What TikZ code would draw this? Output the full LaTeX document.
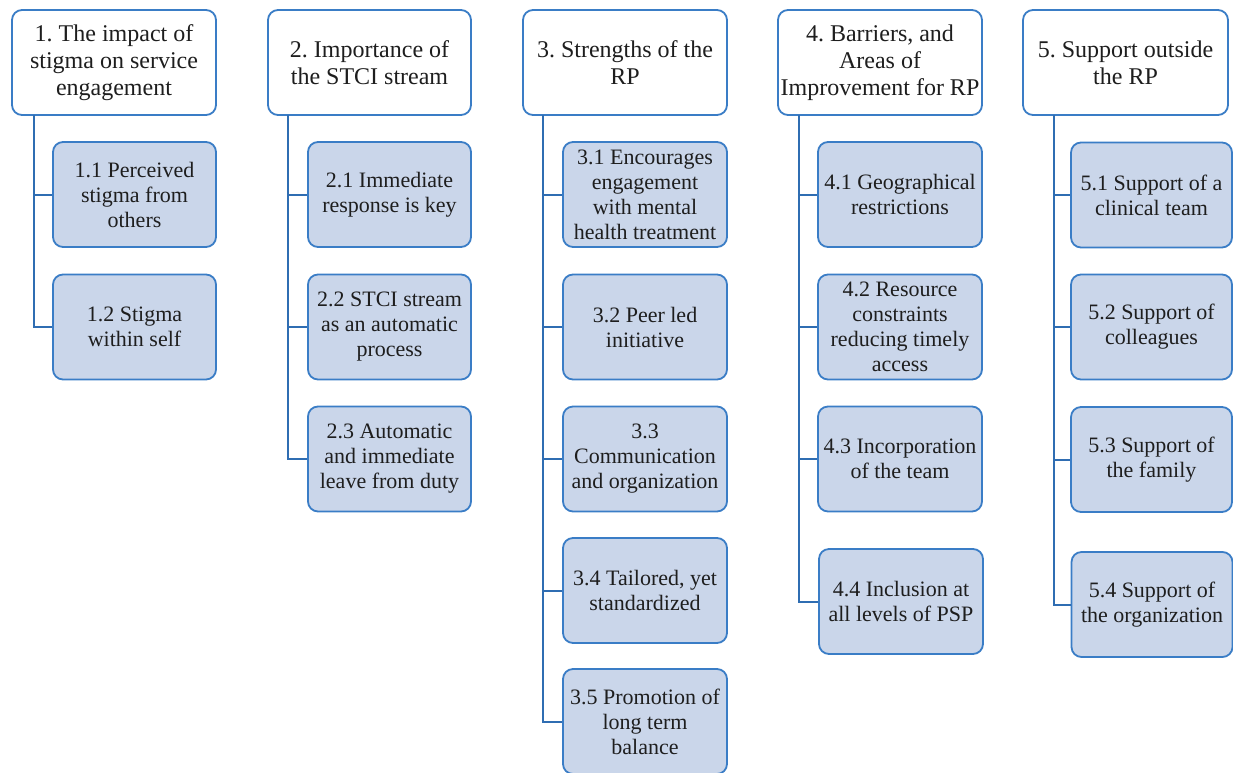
\documentclass[tikz,border=0pt]{standalone}
\usepackage{fontspec}
\setmainfont{Liberation Serif}
\frenchspacing
\definecolor{bordblue}{HTML}{3A7DC6}
\definecolor{fillblue}{HTML}{CAD6EA}
\definecolor{linkblue}{HTML}{2F6DB2}
\definecolor{txt}{HTML}{1E1E1E}
\tikzset{
  hdr/.style={draw=bordblue, line width=1.8pt, fill=white, rounded corners=10pt,
    align=center, text=txt, inner sep=2pt, minimum height=105pt,
    font=\rmfamily\fontsize{24}{27}\selectfont},
  sub/.style={draw=bordblue, line width=1.8pt, fill=fillblue, rounded corners=10pt,
    align=center, text=txt, inner sep=1pt, minimum height=105pt,
    font=\rmfamily\fontsize{22}{25}\selectfont},
  conn/.style={draw=linkblue, line width=2pt}
}
\begin{document}
\begin{tikzpicture}[x=1pt,y=-1pt]
\useasboundingbox (0,0) rectangle (1233,772);
% Column 1
\node[hdr, minimum width=204pt] (h1) at (114,62.5) {1. The impact of\\stigma on service\\engagement};
\node[sub, minimum width=163pt] (c11) at (134.5,194.5) {1.1 Perceived\\stigma from\\others};
\node[sub, minimum width=163pt] (c12) at (134.5,327) {1.2 Stigma\\within self};
\coordinate (t1) at (34,115);
\draw[conn] (t1) |- (c11.west);
\draw[conn] (t1) |- (c12.west);
% Column 2
\node[hdr, minimum width=203pt] (h2) at (369.5,62.5) {2. Importance of\\the STCI stream};
\node[sub, minimum width=163pt] (c21) at (389.5,194.5) {2.1 Immediate\\response is key};
\node[sub, minimum width=163pt] (c22) at (389.5,327) {2.2 STCI stream\\as an automatic\\process};
\node[sub, minimum width=163pt] (c23) at (389.5,459) {2.3 Automatic\\and immediate\\leave from duty};
\coordinate (t2) at (288,115);
\draw[conn] (t2) |- (c21.west);
\draw[conn] (t2) |- (c22.west);
\draw[conn] (t2) |- (c23.west);
% Column 3
\node[hdr, minimum width=204pt] (h3) at (625,62.5) {3. Strengths of the\\RP};
\node[sub, minimum width=164pt] (c31) at (645,194.5) {3.1 Encourages\\engagement\\with mental\\health treatment};
\node[sub, minimum width=164pt] (c32) at (645,327) {3.2 Peer led\\initiative};
\node[sub, minimum width=164pt] (c33) at (645,459) {3.3\\Communication\\and organization};
\node[sub, minimum width=164pt] (c34) at (645,590.5) {3.4 Tailored, yet\\standardized};
\node[sub, minimum width=164pt] (c35) at (645,721.5) {3.5 Promotion of\\long term\\balance};
\coordinate (t3) at (543,115);
\draw[conn] (t3) |- (c31.west);
\draw[conn] (t3) |- (c32.west);
\draw[conn] (t3) |- (c33.west);
\draw[conn] (t3) |- (c34.west);
\draw[conn] (t3) |- (c35.west);
% Column 4
\node[hdr, minimum width=204pt] (h4) at (880,62.5) {4. Barriers, and\\Areas of\\Improvement for RP};
\node[sub, minimum width=164pt] (c41) at (900,194.5) {4.1 Geographical\\restrictions};
\node[sub, minimum width=164pt] (c42) at (900,327) {4.2 Resource\\constraints\\reducing timely\\access};
\node[sub, minimum width=164pt] (c43) at (900,459) {4.3 Incorporation\\of the team};
\node[sub, minimum width=164pt] (c44) at (901,601.5) {4.4 Inclusion at\\all levels of PSP};
\coordinate (t4) at (799,115);
\draw[conn] (t4) |- (c41.west);
\draw[conn] (t4) |- (c42.west);
\draw[conn] (t4) |- (c43.west);
\draw[conn] (t4) |- (c44.west);
% Column 5
\node[hdr, minimum width=205pt] (h5) at (1125.5,62.5) {5. Support outside\\the RP};
\node[sub, minimum width=161pt] (c51) at (1151.5,195) {5.1 Support of a\\clinical team};
\node[sub, minimum width=161pt] (c52) at (1151.5,327) {5.2 Support of\\colleagues};
\node[sub, minimum width=161pt] (c53) at (1151.5,459.5) {5.3 Support of\\the family};
\node[sub, minimum width=161pt] (c54) at (1152,604.5) {5.4 Support of\\the organization};
\coordinate (t5) at (1054,115);
\draw[conn] (t5) |- (c51.west);
\draw[conn] (t5) |- (c52.west);
\draw[conn] (t5) |- (c53.west);
\draw[conn] (t5) |- (c54.west);
\end{tikzpicture}
\end{document}
